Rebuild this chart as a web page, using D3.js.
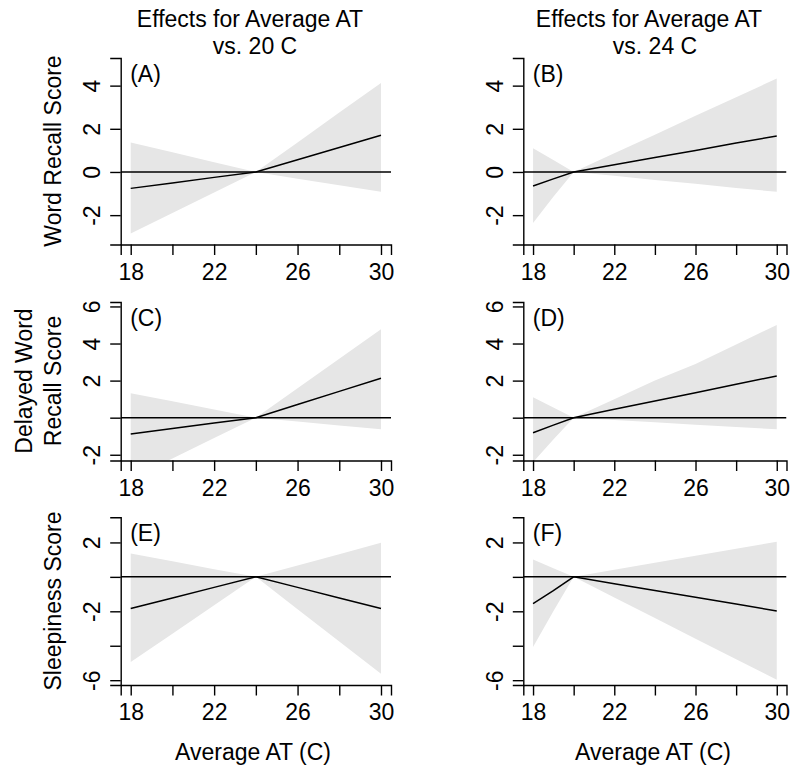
<!DOCTYPE html>
<html>
<head>
<meta charset="utf-8">
<script src="https://cdn.jsdelivr.net/npm/d3@7"></script>
<style>
  body { margin: 0; background: #fff; }
  text { font-family: "Liberation Sans", Arial, Helvetica, sans-serif; font-size: 23px; fill: #000; }
</style>
</head>
<body>
<svg id="chart" width="790" height="771"></svg>
<script>
// ---- Average apparent temperature (C) at which effects were estimated ----
const atLeft  = [18, 20, 22, 24, 26, 28, 30];       // reference 24 C
const atRight = [18, 19, 20, 22, 24, 26, 28, 30];   // reference 20 C

// (A) Word recall score
const estA = [-0.76, -0.51, -0.25, 0, 0.57, 1.13, 1.70];
const lowA = [-2.85, -1.90, -0.95, 0, -0.31, -0.61, -0.92];
const upA  = [1.36, 0.91, 0.45, 0, 1.37, 2.75, 4.12];
// (B) Word recall score
const estB = [-0.65, -0.32, 0, 0.33, 0.67, 1.00, 1.34, 1.67];
const lowB = [-2.36, -1.15, 0, -0.18, -0.37, -0.55, -0.74, -0.92];
const upB  = [1.10, 0.55, 0, 0.87, 1.73, 2.60, 3.46, 4.33];
// (C) Delayed word recall score
const estC = [-0.88, -0.59, -0.29, 0, 0.71, 1.42, 2.13];
const lowC = [-3.30, -2.20, -1.10, 0, -0.21, -0.42, -0.63];
const upC  = [1.32, 0.88, 0.44, 0, 1.59, 3.18, 4.77];
// (D) Delayed word recall score
const estD = [-0.81, -0.40, 0, 0.45, 0.90, 1.35, 1.80, 2.25];
const lowD = [-2.40, -1.18, 0, -0.13, -0.25, -0.38, -0.50, -0.63];
const upD  = [1.10, 0.55, 0, 1.00, 2.00, 2.90, 3.95, 5.00];
// (E) Sleepiness score
const estE = [-1.84, -1.23, -0.61, 0, -0.61, -1.23, -1.84];
const lowE = [-4.95, -3.30, -1.65, 0, -1.88, -3.75, -5.63];
const upE  = [1.36, 0.91, 0.45, 0, 0.66, 1.32, 1.98];
// (F) Sleepiness score
const estF = [-1.55, -0.80, 0, -0.40, -0.79, -1.19, -1.58, -1.98];
const lowF = [-4.08, -2.00, 0, -1.20, -2.39, -3.59, -4.78, -5.98];
const upF  = [1.01, 0.50, 0, 0.41, 0.82, 1.22, 1.63, 2.04];

// ---- axis ticks and labels ----
const xTicks = [18, 20, 22, 24, 26, 28, 30];
const xTickLabels = [18, 22, 26, 30];
const yTicksRow = [[-2, 0, 2, 4], [-2, 0, 2, 4, 6], [-6, -4, -2, 0, 2]];
const yLabelsRow = [[-2, 0, 2, 4], [-2, 2, 4, 6], [-6, -2, 2]];
const yTitles = [["Word Recall Score"], ["Delayed Word", "Recall Score"], ["Sleepiness Score"]];
const colTitles = [["Effects for Average AT", "vs. 20 C"], ["Effects for Average AT", "vs. 24 C"]];
const xTitle = "Average AT (C)";
const panelTags = ["(A)", "(B)", "(C)", "(D)", "(E)", "(F)"];

// ---- layout ----
const xDomain = [17.52, 30.48];
const colBox = [
  { left: 120.7, right: 391, titleX1: 250, titleX2: 255, xTitleX: 253 },
  { left: 523.3, right: 786.5, titleX1: 649, titleX2: 655, xTitleX: 653 }
];
const rowBox = [
  { top: 58, bottom: 244.5, yDomain: [-3.36, 5.28], center: 151 },
  { top: 302, bottom: 460.5, yDomain: [-2.31, 6.24], center: 381 },
  { top: 517.3, bottom: 685, yDomain: [-6.28, 3.46], center: 601 }
];

const panels = [
  { row: 0, col: 0, at: atLeft,  est: estA, low: lowA, up: upA },
  { row: 0, col: 1, at: atRight, est: estB, low: lowB, up: upB },
  { row: 1, col: 0, at: atLeft,  est: estC, low: lowC, up: upC },
  { row: 1, col: 1, at: atRight, est: estD, low: lowD, up: upD },
  { row: 2, col: 0, at: atLeft,  est: estE, low: lowE, up: upE },
  { row: 2, col: 1, at: atRight, est: estF, low: lowF, up: upF }
];

const svg = d3.select("#chart");
const defs = svg.append("defs");
const tickLen = 10.5;

panels.forEach((p, i) => {
  const c = colBox[p.col], r = rowBox[p.row];
  const x = d3.scaleLinear().domain(xDomain).range([c.left, c.right]);
  const y = d3.scaleLinear().domain(r.yDomain).range([r.bottom, r.top]);
  const g = svg.append("g");

  const clipId = "clip" + i;
  defs.append("clipPath").attr("id", clipId)
    .append("rect")
    .attr("x", c.left).attr("y", r.top)
    .attr("width", c.right - c.left).attr("height", r.bottom - r.top);

  const pts = p.at.map((t, k) => ({ t, e: p.est[k], lo: p.low[k], hi: p.up[k] }));
  const plot = g.append("g").attr("clip-path", `url(#${clipId})`);

  // confidence band
  plot.append("path").datum(pts)
    .attr("fill", "#e6e6e6")
    .attr("d", d3.area().x(d => x(d.t)).y0(d => y(d.lo)).y1(d => y(d.hi)));

  // estimated effect
  plot.append("path").datum(pts)
    .attr("fill", "none").attr("stroke", "#000").attr("stroke-width", 1.5)
    .attr("d", d3.line().x(d => x(d.t)).y(d => y(d.e)));

  // no-effect reference line
  plot.append("line")
    .attr("x1", c.left).attr("x2", c.right)
    .attr("y1", y(0)).attr("y2", y(0))
    .attr("stroke", "#000").attr("stroke-width", 1.5);

  // x axis
  const xa = g.append("g").attr("transform", `translate(0,${r.bottom})`)
    .call(d3.axisBottom(x).tickValues(xTicks).tickSizeOuter(0).tickSize(tickLen)
      .tickFormat(v => xTickLabels.includes(v) ? String(v) : ""));
  xa.selectAll("text").attr("y", 35).attr("dy", 0);

  // y axis
  const labs = yLabelsRow[p.row];
  const ya = g.append("g").attr("transform", `translate(${c.left},0)`)
    .call(d3.axisLeft(y).tickValues(yTicksRow[p.row]).tickSizeOuter(0).tickSize(tickLen)
      .tickFormat(v => labs.includes(v) ? String(v) : ""));
  ya.selectAll("text")
    .attr("transform", "rotate(-90)")
    .attr("x", 0).attr("y", -20.5).attr("dy", 0)
    .attr("text-anchor", "middle");

  [xa, ya].forEach(a => {
    a.attr("font-size", null).attr("font-family", null);
    a.selectAll("path, line").attr("stroke", "#000").attr("stroke-width", 1.4);
    a.selectAll("text").attr("fill", "#000");
  });

  // panel tag
  g.append("text")
    .attr("x", c.left + 9.5).attr("y", r.top + 24)
    .text(panelTags[i]);
});

// column titles
colTitles.forEach((lines, ci) => {
  const c = colBox[ci];
  svg.append("text").attr("x", c.titleX1).attr("y", 27)
    .attr("text-anchor", "middle").text(lines[0]);
  svg.append("text").attr("x", c.titleX2).attr("y", 53.5)
    .attr("text-anchor", "middle").text(lines[1]);
  svg.append("text").attr("x", c.xTitleX).attr("y", 760)
    .attr("text-anchor", "middle").text(xTitle);
});

// row titles (rotated)
yTitles.forEach((lines, ri) => {
  const r = rowBox[ri];
  const bases = lines.length === 1 ? [61] : [31.5, 61];
  lines.forEach((s, k) => {
    svg.append("text")
      .attr("transform", `translate(${bases[k]},${r.center}) rotate(-90)`)
      .attr("text-anchor", "middle")
      .text(s);
  });
});
</script>
</body>
</html>
